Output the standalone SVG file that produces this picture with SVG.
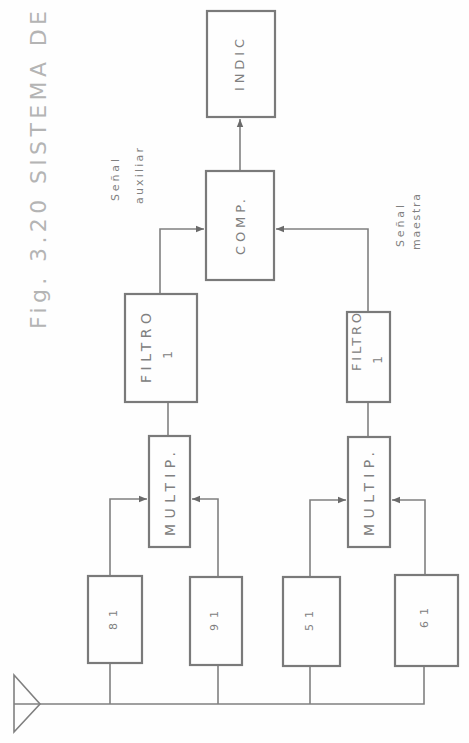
<svg xmlns="http://www.w3.org/2000/svg" width="469" height="743" viewBox="0 0 469 743">
<style>
.box{fill:none;stroke:#7a7a7a;stroke-width:2.2}
.ln{fill:none;stroke:#808080;stroke-width:1.6}
.t{font-family:"DejaVu Sans","Liberation Sans",sans-serif;fill:#808080;text-anchor:middle;dominant-baseline:central}
.s{font-size:11px}
.title{font-family:"DejaVu Sans","Liberation Sans",sans-serif;fill:#b4b4b4;font-size:22px;text-anchor:middle;dominant-baseline:central}
</style>
<defs>
<marker id="ah" viewBox="0 0 10 10" refX="10" refY="5" markerWidth="8" markerHeight="8" orient="auto" markerUnits="userSpaceOnUse"><path d="M0,1 L10,5 L0,9 Z" fill="#6a6a6a"/></marker>
</defs>
<rect width="469" height="743" fill="#fefefe"/>
<text class="title" transform="translate(38,170) rotate(-90)" textLength="318" lengthAdjust="spacing">Fig. 3.20 SISTEMA DE</text>

<g id="connectors">
<path class="ln" d="M14,704 H424 V666"/>
<path class="ln" d="M110,663 V704 M218,665 V704 M310,666 V704"/>
<path class="ln" d="M110,576 V499 H147" marker-end="url(#ah)"/>
<path class="ln" d="M218,577 V499 H192" marker-end="url(#ah)"/>
<path class="ln" d="M310,577 V500 H346" marker-end="url(#ah)"/>
<path class="ln" d="M425,575 V500 H392" marker-end="url(#ah)"/>
<path class="ln" d="M168,436 V402"/>
<path class="ln" d="M368,437 V402"/>
<path class="ln" d="M160,294 V229 H204" marker-end="url(#ah)"/>
<path class="ln" d="M368,312 V229 H276" marker-end="url(#ah)"/>
<path class="ln" d="M240,171 V119" marker-end="url(#ah)"/>
</g>

<g id="antenna"><polygon class="ln" points="14,675 40,704 14,732"/></g>

<g id="indic"><rect class="box" x="207" y="11" width="68" height="106"/><text class="t" font-size="13" transform="translate(239,65) rotate(-90)" textLength="52" lengthAdjust="spacing">INDIC</text></g>
<g id="comp"><rect class="box" x="206" y="171" width="68" height="109"/><text class="t" font-size="13" transform="translate(240,227) rotate(-90)" textLength="56" lengthAdjust="spacing">COMP.</text></g>
<g id="filtro1"><rect class="box" x="125" y="294" width="72" height="108"/><text class="t" font-size="14" transform="translate(146,348) rotate(-90)" textLength="70" lengthAdjust="spacing">FILTRO</text><text class="t" font-size="12" transform="translate(168,355) rotate(-90)">1</text></g>
<g id="multip1"><rect class="box" x="149" y="436" width="41" height="111"/><text class="t" font-size="14" transform="translate(170,494) rotate(-90)" textLength="84" lengthAdjust="spacing">MULTIP.</text></g>
<g id="filtro2"><rect class="box" x="347" y="312" width="43" height="90"/><text class="t" font-size="13" transform="translate(356,342) rotate(-90)" textLength="58" lengthAdjust="spacing">FILTRO</text><text class="t" font-size="12" transform="translate(378,360) rotate(-90)">1</text></g>
<g id="multip2"><rect class="box" x="348" y="437" width="42" height="110"/><text class="t" font-size="14" transform="translate(369,494) rotate(-90)" textLength="84" lengthAdjust="spacing">MULTIP.</text></g>
<g id="b81"><rect class="box" x="88" y="576" width="54" height="87"/><text class="t" font-size="11" transform="translate(113,620) rotate(-90)" textLength="20" lengthAdjust="spacing">81</text></g>
<g id="b91"><rect class="box" x="190" y="577" width="52" height="88"/><text class="t" font-size="11" transform="translate(214,621) rotate(-90)" textLength="20" lengthAdjust="spacing">91</text></g>
<g id="b51"><rect class="box" x="283" y="577" width="57" height="89"/><text class="t" font-size="11" transform="translate(309,621) rotate(-90)" textLength="20" lengthAdjust="spacing">51</text></g>
<g id="b61"><rect class="box" x="395" y="575" width="63" height="91"/><text class="t" font-size="11" transform="translate(424,618) rotate(-90)" textLength="20" lengthAdjust="spacing">61</text></g>

<g id="labels">
<text class="t s" transform="translate(115,180) rotate(-90)" textLength="42" lengthAdjust="spacing">Señal</text>
<text class="t s" transform="translate(139,176) rotate(-90)" textLength="56" lengthAdjust="spacing">auxiliar</text>
<text class="t s" transform="translate(400,226) rotate(-90)" textLength="42" lengthAdjust="spacing">Señal</text>
<text class="t s" transform="translate(416,222) rotate(-90)" textLength="56" lengthAdjust="spacing">maestra</text>
</g>
</svg>
